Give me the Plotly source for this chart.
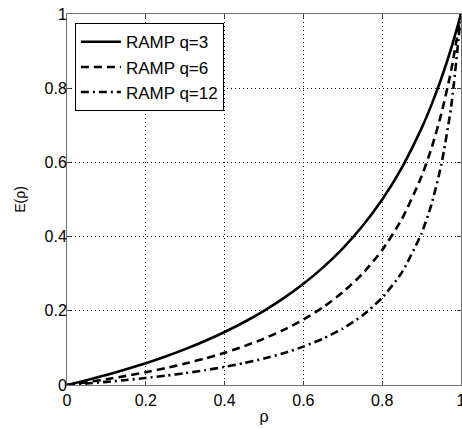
import plotly.graph_objects as go

rho = [0, 0.05, 0.1, 0.15, 0.2, 0.25, 0.3, 0.35, 0.4, 0.45, 0.5, 0.55, 0.6, 0.65,
       0.7, 0.75, 0.8, 0.85, 0.9, 0.925, 0.95, 0.975, 1.0]
e_q3 = [0, 0.0130, 0.0270, 0.0423, 0.0588, 0.0769, 0.0968, 0.1186, 0.1429, 0.1698,
        0.2000, 0.2340, 0.2727, 0.3171, 0.3684, 0.4286, 0.5000, 0.5862, 0.6923,
        0.7551, 0.8261, 0.9070, 1.0]
e_q6 = [0, 0.0075, 0.0156, 0.0246, 0.0345, 0.0455, 0.0577, 0.0714, 0.0870, 0.1047,
        0.1250, 0.1486, 0.1765, 0.2097, 0.2500, 0.3000, 0.3636, 0.4474, 0.5625,
        0.6379, 0.7308, 0.8478, 1.0]
e_q12 = [0, 0.0040, 0.0085, 0.0134, 0.0189, 0.0250, 0.0319, 0.0398, 0.0488, 0.0592,
         0.0714, 0.0859, 0.1034, 0.1250, 0.1522, 0.1875, 0.2353, 0.3036, 0.4091,
         0.4868, 0.5938, 0.7500, 1.0]

series = [
    ("RAMP q=3", e_q3, "solid"),
    ("RAMP q=6", e_q6, "8px,5px"),
    ("RAMP q=12", e_q12, "8px,4px,2px,4px"),
]
x_ticks = [0, 0.2, 0.4, 0.6, 0.8, 1]
y_ticks = [0, 0.2, 0.4, 0.6, 0.8, 1]

fig = go.Figure()
for name, ys, dash in series:
    fig.add_trace(go.Scatter(x=rho, y=ys, mode="lines", name=name,
                             line=dict(color="black", width=2.6, dash=dash,
                                       shape="spline", smoothing=0.6)))

FAM = "Liberation Sans, Arial, sans-serif"
tick_font = dict(family=FAM, size=16, color="black")
axis_common = dict(range=[0, 1], showgrid=True, gridcolor="black", griddash="1px,3px",
                   gridwidth=1, showline=True, linecolor="#707070", linewidth=1,
                   mirror="ticks", ticks="inside", ticklen=4, tickcolor="#404040",
                   zeroline=False, tickfont=tick_font, automargin=False,
                   ticklabeloverflow="allow")
fig.update_xaxes(**axis_common, tickvals=x_ticks, ticktext=[str(v) for v in x_ticks],
                 ticklabelstandoff=1,
                 title=dict(text="ρ", font=dict(family=FAM, size=16, color="black"), standoff=2))
fig.update_yaxes(**axis_common, tickvals=y_ticks, ticktext=[str(v) for v in y_ticks],
                 ticklabelstandoff=-4,
                 title=dict(text="E(ρ)", font=dict(family=FAM, size=14, color="black"), standoff=15))

fig.update_layout(
    width=462, height=429,
    margin=dict(l=67, r=1, t=14, b=44),
    paper_bgcolor="white", plot_bgcolor="white",
    font=dict(family=FAM, size=16, color="black"),
    legend=dict(x=0.02, y=0.975, xanchor="left", yanchor="top",
                bgcolor="white", bordercolor="black", borderwidth=1,
                font=dict(family=FAM, size=17, color="black"), tracegroupgap=0,
                itemwidth=40),
    showlegend=True,
)
fig.write_html("out.html", config={"displayModeBar": False},
               post_script="document.body.style.margin='0';")
